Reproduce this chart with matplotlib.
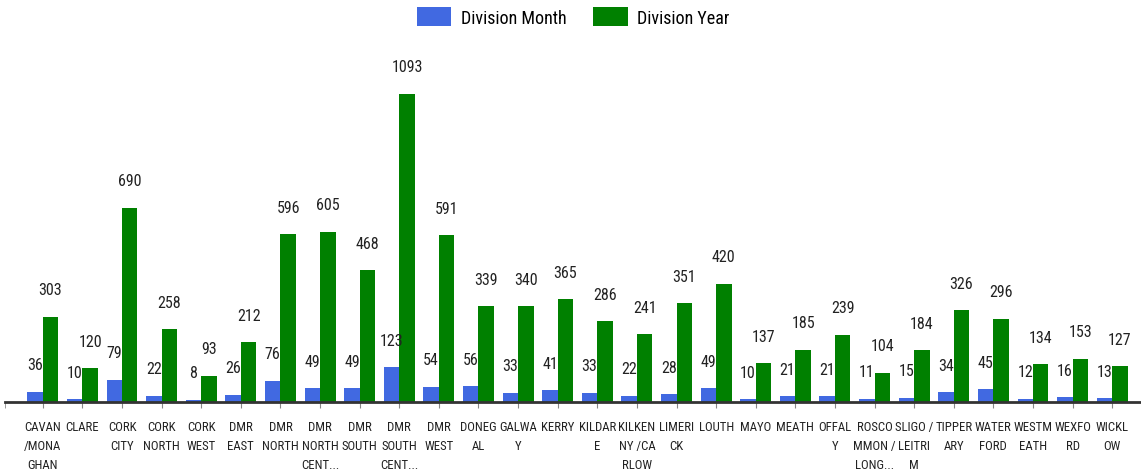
import numpy as np
import matplotlib.pyplot as plt

plt.rcParams['font.family'] = ['Roboto Condensed', 'Liberation Sans', 'DejaVu Sans']

labels = ["CAVAN\n/MONA\nGHAN", "CLARE", "CORK\nCITY", "CORK\nNORTH", "CORK\nWEST",
          "DMR\nEAST", "DMR\nNORTH", "DMR\nNORTH\nCENT...", "DMR\nSOUTH",
          "DMR\nSOUTH\nCENT...", "DMR\nWEST", "DONEG\nAL", "GALWA\nY", "KERRY",
          "KILDAR\nE", "KILKEN\nNY /CA\nRLOW", "LIMERI\nCK", "LOUTH", "MAYO", "MEATH",
          "OFFAL\nY", "ROSCO\nMMON /\nLONG...", "SLIGO /\nLEITRI\nM", "TIPPER\nARY",
          "WATER\nFORD", "WESTM\nEATH", "WEXFO\nRD", "WICKL\nOW"]
month = [36, 10, 79, 22, 8, 26, 76, 49, 49, 123, 54, 56, 33, 41, 33, 22, 28, 49,
         10, 21, 21, 11, 15, 34, 45, 12, 16, 13]
year = [303, 120, 690, 258, 93, 212, 596, 605, 468, 1093, 591, 339, 340, 365, 286,
        241, 351, 420, 137, 185, 239, 104, 184, 326, 296, 134, 153, 127]

blue = '#4169e1'
green = '#008000'

W, H = 1141, 477
fig = plt.figure(figsize=(W / 100, H / 100), dpi=100)
ax = fig.add_axes([5 / W, (H - 403) / H, (W - 5) / W, (403 - 40) / H])

x = np.arange(len(labels))
bw = 0.39
b1 = ax.bar(x - bw / 2, month, bw, color=blue, label='Division Month')
b2 = ax.bar(x + bw / 2, year, bw, color=green, label='Division Year')

for bars, vals in ((b1, month), (b2, year)):
    for r, v in zip(bars, vals):
        ax.annotate(str(v), (r.get_x() + r.get_width() / 2, v),
                    xytext=(0, 27), textcoords='offset pixels',
                    ha='center', va='center', fontsize=11.5, color='#222222')

x0 = -0.5 - 18 / 39.6
ax.set_xlim(x0, 27.5 + 9 / 39.6)
ax.set_ylim(0, 363 / 0.2818)

ax.set_xticks(x)
ax.set_xticklabels(labels, fontsize=9.2, color='#222222', linespacing=1.6, va='top')
ax.set_xticks([x0], minor=True)
ax.tick_params(axis='x', which='both', length=4, color='#888888', pad=9)
ax.set_yticks([])
for s in ('top', 'right', 'left'):
    ax.spines[s].set_visible(False)
ax.spines['bottom'].set_linewidth(2)
ax.spines['bottom'].set_color('#333333')

fig.legend(handles=[b1, b2], loc='center', bbox_to_anchor=(573 / W, 1 - 18 / H),
           ncol=2, frameon=False, fontsize=13, handlelength=1.9, handleheight=1.2,
           handletextpad=0.5, columnspacing=1.5)

fig.savefig('out.png', dpi=100)
